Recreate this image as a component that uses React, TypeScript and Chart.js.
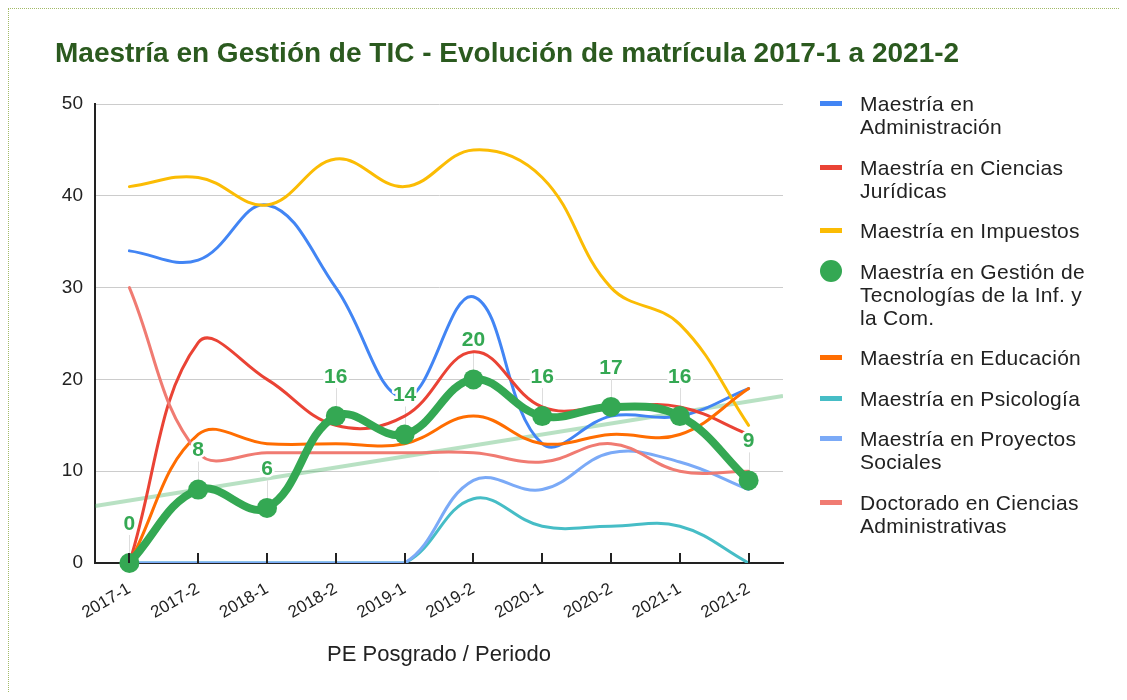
import React, { useEffect, useRef } from 'react';
import { Chart, registerables } from 'chart.js';

Chart.register(...registerables);

const FONT = 'Arial, "Liberation Sans", sans-serif';

const categories = ['2017-1', '2017-2', '2018-1', '2018-2', '2019-1', '2019-2', '2020-1', '2020-2', '2021-1', '2021-2'];

const administracion = [34, 33, 39, 30, 18, 29, 13, 16, 16, 19];
const cienciasJuridicas = [0, 24, 20, 15, 16, 23, 17, 17, 17, 14];
const impuestos = [41, 42, 39, 44, 41, 45, 42, 30, 26, 15];
const gestionTic = [0, 8, 6, 16, 14, 20, 16, 17, 16, 9];
const educacion = [0, 14, 13, 13, 13, 16, 13, 14, 14, 19];
const psicologia = [0, 0, 0, 0, 0, 7, 4, 4, 4, 0];
const proyectosSociales = [0, 0, 0, 0, 0, 9, 8, 12, 11, 8];
const doctoradoAdmin = [30, 12, 12, 12, 12, 12, 11, 13, 10, 10];

const yTickValues = [0, 10, 20, 30, 40, 50];

const legendLines = [
  ['Maestría en', 'Administración'],
  ['Maestría en Ciencias', 'Jurídicas'],
  ['Maestría en Impuestos'],
  ['Maestría en Gestión de', 'Tecnologías de la Inf. y', 'la Com.'],
  ['Maestría en Educación'],
  ['Maestría en Psicología'],
  ['Maestría en Proyectos', 'Sociales'],
  ['Doctorado en Ciencias', 'Administrativas'],
];

const seriesData = [administracion, cienciasJuridicas, impuestos, gestionTic, educacion, psicologia, proyectosSociales, doctoradoAdmin];
const seriesColors = ['#4285F4', '#EA4335', '#FBBC04', '#34A853', '#FF6D01', '#46BDC6', '#7BAAF7', '#F07B72'];

const titleText = 'Maestría en Gestión de TIC - Evolución de matrícula 2017-1 a 2021-2';
const xAxisTitle = 'PE Posgrado / Periodo';

const HIGHLIGHT = 3;

const trendPlugin = {
  id: 'trendAndStems',
  beforeDatasetsDraw(chart: any) {
    const { ctx, chartArea, scales } = chart;
    const xs = scales.x;
    const ys = scales.y;
    const vals = seriesData[HIGHLIGHT];
    const n = vals.length;
    let sx = 0, sy = 0, sxy = 0, sxx = 0;
    vals.forEach((v, i) => { sx += i; sy += v; sxy += i * v; sxx += i * i; });
    const slope = (n * sxy - sx * sy) / (n * sxx - sx * sx);
    const inter = (sy - slope * sx) / n;
    const p0 = xs.getPixelForValue(0);
    const p1 = xs.getPixelForValue(n - 1);
    const idxAt = (px: number) => ((px - p0) / (p1 - p0)) * (n - 1);
    ctx.save();
    ctx.beginPath();
    ctx.rect(chartArea.left, chartArea.top, chartArea.right - chartArea.left, chartArea.bottom - chartArea.top);
    ctx.clip();
    ctx.strokeStyle = 'rgba(52,168,83,0.35)';
    ctx.lineWidth = 4;
    ctx.beginPath();
    ctx.moveTo(chartArea.left, ys.getPixelForValue(inter + slope * idxAt(chartArea.left)));
    ctx.lineTo(chartArea.right, ys.getPixelForValue(inter + slope * idxAt(chartArea.right)));
    ctx.stroke();
    ctx.restore();

    const meta = chart.getDatasetMeta(HIGHLIGHT);
    ctx.save();
    ctx.strokeStyle = '#dddddd';
    ctx.lineWidth = 1;
    meta.data.forEach((pt: any) => {
      const x = Math.round(pt.x) + 0.5;
      ctx.beginPath();
      ctx.moveTo(x, pt.y - 28);
      ctx.lineTo(x, pt.y);
      ctx.stroke();
    });
    ctx.restore();
  },
  afterDatasetsDraw(chart: any) {
    const { ctx, chartArea, scales } = chart;
    const xs = scales.x;
    ctx.save();
    ctx.strokeStyle = '#222';
    ctx.lineWidth = 2;
    categories.forEach((_, i) => {
      const x = Math.round(xs.getPixelForValue(i));
      ctx.beginPath();
      ctx.moveTo(x, chartArea.bottom);
      ctx.lineTo(x, chartArea.bottom - 10);
      ctx.stroke();
    });
    ctx.restore();

    const meta = chart.getDatasetMeta(HIGHLIGHT);
    const vals = seriesData[HIGHLIGHT];
    ctx.save();
    ctx.font = `bold 21px ${FONT}`;
    ctx.textAlign = 'center';
    ctx.textBaseline = 'middle';
    ctx.lineJoin = 'round';
    meta.data.forEach((pt: any, i: number) => {
      const y = pt.y - 39;
      ctx.lineWidth = 5;
      ctx.strokeStyle = '#ffffff';
      ctx.strokeText(String(vals[i]), pt.x, y);
      ctx.fillStyle = '#34A853';
      ctx.fillText(String(vals[i]), pt.x, y);
    });
    ctx.restore();
  },
};

export default function App() {
  const ref = useRef<HTMLCanvasElement>(null);

  useEffect(() => {
    const canvas = ref.current;
    if (!canvas) return;
    Chart.defaults.font.family = FONT;
    const datasets = seriesData.map((d, i) => {
      const hl = i === HIGHLIGHT;
      return {
        label: legendLines[i].join(' '),
        data: d,
        borderColor: seriesColors[i],
        backgroundColor: seriesColors[i],
        borderWidth: hl ? 8 : 3,
        pointRadius: hl ? 10 : 0,
        pointHoverRadius: hl ? 10 : 0,
        pointBorderWidth: 0,
        pointBackgroundColor: seriesColors[i],
        tension: 0.4,
        fill: false,
        clip: hl ? false : undefined,
        order: hl ? -100 : -i,
        borderCapStyle: 'round' as const,
        borderJoinStyle: 'round' as const,
      };
    });
    const chart = new Chart(canvas, {
      type: 'line',
      data: { labels: categories, datasets: datasets as any },
      plugins: [trendPlugin],
      options: {
        animation: false,
        responsive: false,
        maintainAspectRatio: false,
        devicePixelRatio: 1,
        layout: { padding: { left: 46, right: 344, top: 95, bottom: 0 } },
        plugins: {
          legend: { display: false },
          tooltip: { enabled: false },
          title: { display: false },
        },
        scales: {
          x: {
            type: 'category',
            offset: true,
            grid: { display: false, drawTicks: false },
            border: { display: true, color: '#222', width: 2 },
            ticks: {
              color: '#222',
              font: { size: 17, family: FONT },
              maxRotation: 30,
              minRotation: 30,
              autoSkip: false,
              padding: 16,
            },
            title: {
              display: true,
              text: xAxisTitle,
              color: '#222',
              font: { size: 22, family: FONT },
              padding: { top: 0, bottom: 21 },
            },
            afterFit: (s: any) => { s.height = 126; },
          },
          y: {
            min: yTickValues[0],
            max: yTickValues[yTickValues.length - 1],
            afterBuildTicks: (s: any) => { s.ticks = yTickValues.map((v) => ({ value: v })); },
            ticks: { color: '#222', font: { size: 19, family: FONT }, padding: 12 },
            grid: {
              drawTicks: false,
              color: (c: any) => (c.tick && c.tick.value === 0 ? '#222' : '#cccccc'),
              lineWidth: (c: any) => (c.tick && c.tick.value === 0 ? 2 : 1),
            },
            border: { display: true, color: '#222', width: 2 },
            afterFit: (s: any) => { s.width = 40; },
          },
        },
      } as any,
    });
    return () => chart.destroy();
  }, []);

  return (
    <div
      style={{
        position: 'relative',
        width: 1119,
        height: 684,
        boxSizing: 'border-box',
        borderTop: '1px dotted #a3bb67',
        borderLeft: '1px dotted #a3bb67',
        background: '#fff',
        fontFamily: FONT,
        overflow: 'hidden',
      }}
    >
      <canvas ref={ref} width={1118} height={680} style={{ position: 'absolute', left: 0, top: 0, width: 1118, height: 680 }} />
      <div
        style={{
          position: 'absolute',
          left: 46,
          top: 28,
          fontSize: 28,
          lineHeight: '32px',
          fontWeight: 'bold',
          color: '#2b5a1f',
          whiteSpace: 'nowrap',
        }}
      >
        {titleText}
      </div>
      <div style={{ position: 'absolute', left: 811, top: 83 }}>
        {legendLines.map((lines, i) => (
          <div
            key={i}
            style={{
              position: 'relative',
              paddingLeft: 40,
              marginBottom: 17.5,
              fontSize: 21,
              lineHeight: '23px',
              color: '#222',
              letterSpacing: 0.3,
            }}
          >
            {i === HIGHLIGHT ? (
              <div style={{ position: 'absolute', left: 0, top: 0.5, width: 22, height: 22, borderRadius: '50%', background: seriesColors[i] }} />
            ) : (
              <div style={{ position: 'absolute', left: 0, top: 9, width: 22, height: 5, background: seriesColors[i] }} />
            )}
            {lines.map((l, j) => (
              <div key={j} style={{ whiteSpace: 'nowrap' }}>{l}</div>
            ))}
          </div>
        ))}
      </div>
    </div>
  );
}
